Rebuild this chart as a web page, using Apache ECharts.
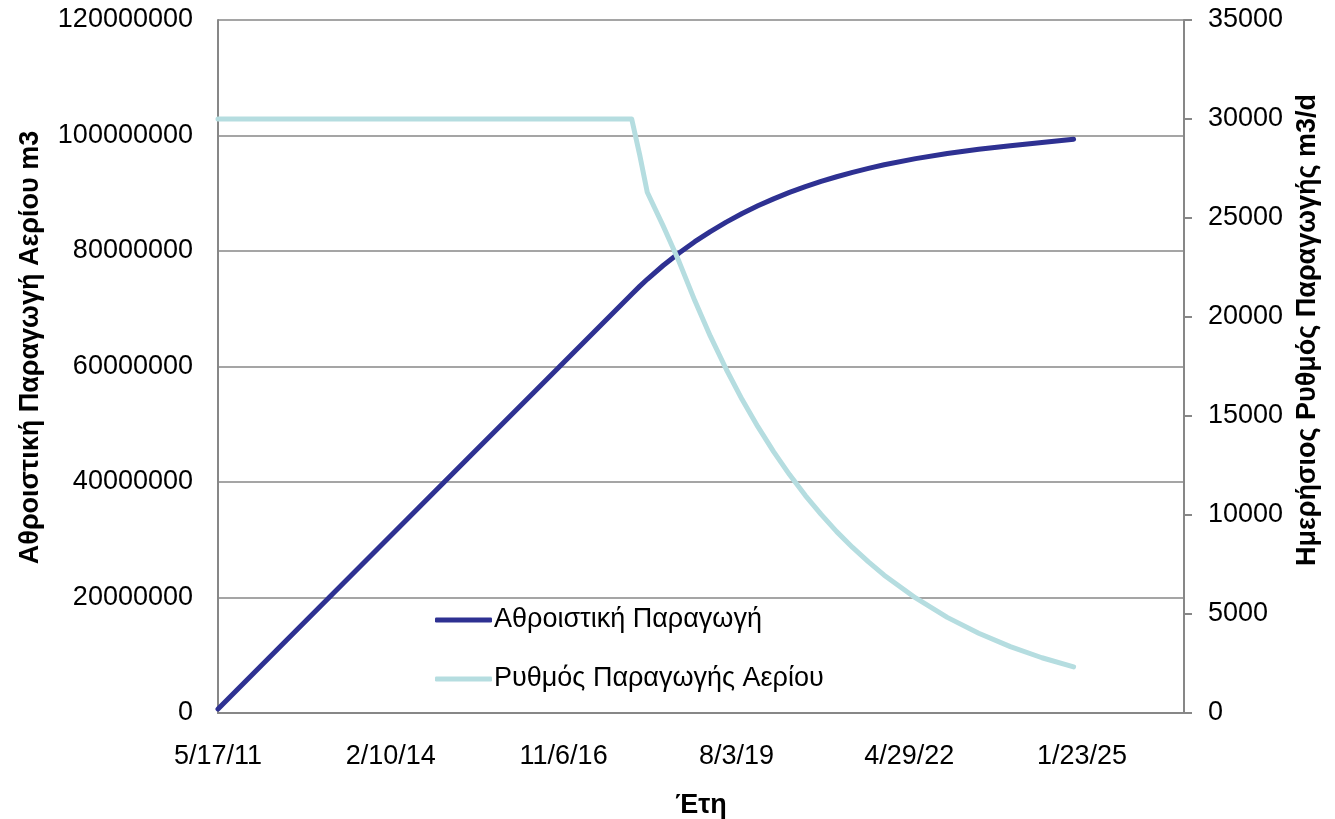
<!DOCTYPE html>
<html>
<head>
<meta charset="utf-8">
<script src="https://cdn.jsdelivr.net/npm/echarts@6/dist/echarts.min.js"></script>
<style>
html,body{margin:0;padding:0;background:#fff;}
#chart{width:1335px;height:819px;}
</style>
</head>
<body>
<div id="chart"></div>
<script>
// ---- Data ----
var dates = ['2011-05-17','2012-05-17','2013-05-17','2014-05-17','2015-05-17','2016-05-17','2017-05-17','2017-12-05',
  '2018-01-20','2018-03-05','2018-06-05','2018-09-05','2018-12-05','2019-03-05','2019-06-05','2019-09-05','2019-12-05',
  '2020-03-05','2020-06-05','2020-09-05','2020-12-05','2021-03-05','2021-06-05','2021-09-05','2021-12-05',
  '2022-06-05','2022-12-05','2023-06-05','2023-12-05','2024-06-05','2024-12-05'];
var cumulative = [700000, 11680000, 22630000, 33580000, 44530000, 55510000, 66460000, 72520000,
  73870000, 75100000, 77490000, 79660000, 81610000, 83370000, 85000000, 86490000, 87820000,
  89030000, 90140000, 91140000, 92050000, 92860000, 93620000, 94300000, 94930000,
  96000000, 96890000, 97620000, 98230000, 98780000, 99350000];
var rate = [30000, 30000, 30000, 30000, 30000, 30000, 30000, 30000,
  28200, 26300, 24600, 22800, 20830, 19030, 17360, 15830, 14460,
  13200, 12040, 10980, 10030, 9160, 8360, 7630, 6960,
  5810, 4830, 4030, 3350, 2790, 2330];
var seriesNames = ['Αθροιστική Παραγωγή', 'Ρυθμός Παραγωγής Αερίου'];
var leftAxisTitle = 'Αθροιστική Παραγωγή Αερίου m3';
var rightAxisTitle = 'Ημερήσιος Ρυθμός Παραγωγής m3/d';
var xAxisTitle = 'Έτη';
var xStartDate = '2011-05-17';
var xTickDays = 1000;
var xSpanDays = 5590;
var leftMax = 120000000, leftStep = 20000000;
var rightMax = 35000, rightStep = 5000;

// ---- Build ----
var DAY = 86400000;
var x0 = Date.parse(xStartDate);
function pts(vals){ return dates.map(function(d,i){ return [Date.parse(d), vals[i]]; }); }
function fmtDate(v){
  var d = new Date(v);
  return (d.getUTCMonth()+1) + '/' + d.getUTCDate() + '/' + String(d.getUTCFullYear()).slice(2);
}
var FONT = 'Liberation Sans, Arial, Helvetica, sans-serif';
var gray = '#878787';
var FS = 27;

var chart = echarts.init(document.getElementById('chart'), null, {renderer:'canvas'});
chart.setOption({
  animation: false,
  backgroundColor: '#ffffff',
  textStyle: {fontFamily: FONT},
  grid: {left: 218, right: 151, top: 20, bottom: 106, containLabel: false, outerBoundsMode: 'none'},
  legend: {
    orient: 'vertical', left: 435, top: 605, padding: 0,
    itemWidth: 57, itemHeight: 5, itemGap: 29,
    icon: 'roundRect',
    textStyle: {fontFamily: FONT, fontSize: FS, color: '#000', lineHeight: 30, padding: [0,0,0,-3]},
    data: seriesNames
  },
  xAxis: {
    type: 'value',
    min: x0, max: x0 + xSpanDays*DAY, interval: xTickDays*DAY,
    name: xAxisTitle, nameLocation: 'middle', nameGap: 79,
    nameTextStyle: {fontFamily: FONT, fontSize: FS, fontWeight: 'bold', color: '#000'},
    axisLine: {show: true, lineStyle: {color: gray, width: 2}},
    axisTick: {show: false},
    splitLine: {show: false},
    axisLabel: {formatter: fmtDate, fontSize: FS, color: '#000', margin: 30, showMaxLabel: false, fontFamily: FONT}
  },
  yAxis: [{
    type: 'value', position: 'left',
    min: 0, max: leftMax, interval: leftStep,
    name: leftAxisTitle, nameLocation: 'middle', nameGap: 174, nameRotate: 90,
    nameTextStyle: {fontFamily: FONT, fontSize: FS, fontWeight: 'bold', color: '#000', padding: [0,0,0,38]},
    axisLine: {show: true, lineStyle: {color: gray, width: 2}},
    axisTick: {show: false},
    splitLine: {show: true, lineStyle: {color: gray, width: 1.5}},
    axisLabel: {formatter: function(v){ return String(v); }, fontSize: FS, color: '#000', margin: 25, fontFamily: FONT}
  },{
    type: 'value', position: 'right',
    min: 0, max: rightMax, interval: rightStep,
    name: rightAxisTitle, nameLocation: 'middle', nameGap: 102, nameRotate: 90,
    nameTextStyle: {fontFamily: FONT, fontSize: FS, fontWeight: 'bold', color: '#000', padding: [0,0,0,73]},
    axisLine: {show: true, lineStyle: {color: gray, width: 2}},
    axisTick: {show: true, inside: false, length: 8, lineStyle: {color: gray, width: 2}},
    splitLine: {show: false},
    axisLabel: {formatter: function(v){ return String(v); }, fontSize: FS, color: '#000', margin: 24, fontFamily: FONT}
  }],
  series: [{
    name: seriesNames[0], type: 'line', yAxisIndex: 0,
    data: pts(cumulative), showSymbol: false, symbol: 'none',
    lineStyle: {color: '#2e3192', width: 5, cap: 'round', join: 'round'},
    itemStyle: {color: '#2e3192'}
  },{
    name: seriesNames[1], type: 'line', yAxisIndex: 1,
    data: pts(rate), showSymbol: false, symbol: 'none',
    lineStyle: {color: '#b5dde0', width: 5, cap: 'round', join: 'round'},
    itemStyle: {color: '#b5dde0'}
  }]
});
</script>
</body>
</html>
